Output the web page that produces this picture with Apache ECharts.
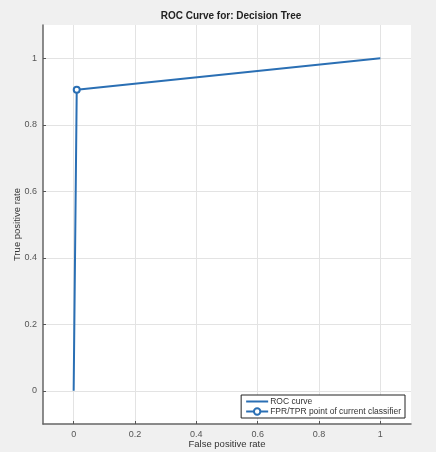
<!DOCTYPE html>
<html><head><meta charset="utf-8">
<script src="https://cdn.jsdelivr.net/npm/echarts@6/dist/echarts.min.js"></script>
<style>html,body{margin:0;padding:0;background:#f0f0f0;}#c{width:436px;height:452px;}</style>
</head><body><div id="c"></div>
<script>
const rocFPR = [0, 0.01, 1];
const rocTPR = [0, 0.905, 1];
const pointFPR = [0.01];
const pointTPR = [0.905];
const tickValues = [0, 0.2, 0.4, 0.6, 0.8, 1];

const chart = echarts.init(document.getElementById('c'));
const axisCommon = {
  type: 'value', min: -0.1, max: 1.1,
  axisLine: {show: true, onZero: false, lineStyle: {color: '#666', width: 1.5}},
  axisTick: {show: true, inside: true, length: 3, customValues: tickValues, lineStyle: {color: '#555'}},
  axisLabel: {customValues: tickValues, color: '#555', fontSize: 9, fontFamily: 'Liberation Sans', formatter: v => String(+v.toFixed(1))},
  splitLine: {show: true, lineStyle: {color: '#e3e3e3', width: 1}},
  nameLocation: 'middle',
  nameMoveOverlap: false,
  nameTextStyle: {color: '#333', fontSize: 9.5, fontFamily: 'Liberation Sans'}
};
chart.setOption({
  backgroundColor: '#f0f0f0',
  animation: false,
  title: {text: 'ROC Curve for: Decision Tree', left: 226, top: 6, textAlign: 'center',
    textStyle: {fontSize: 10, fontWeight: 'bold', color: '#222', fontFamily: 'Liberation Sans'}},
  grid: {left: 43, right: 25, top: 25, bottom: 28, show: true, backgroundColor: '#fff', borderWidth: 0,
    containLabel: false, outerBoundsMode: 'none'},
  xAxis: Object.assign({}, axisCommon, {name: 'False positive rate', nameGap: 15,
    axisLabel: Object.assign({}, axisCommon.axisLabel, {margin: 6})}),
  yAxis: Object.assign({}, axisCommon, {name: 'True positive rate', nameGap: 21,
    axisLabel: Object.assign({}, axisCommon.axisLabel, {margin: 6})}),
  legend: {
    right: 31, bottom: 34, orient: 'vertical', itemGap: 1, itemWidth: 22, itemHeight: 8,
    backgroundColor: '#fff', borderColor: '#222', borderWidth: 1, padding: [2, 4, 2, 4], borderRadius: 0,
    textStyle: {fontSize: 8.5, color: '#333', fontFamily: 'Liberation Sans', padding: [0,0,0,-3]},
    data: [
      {name: 'ROC curve', icon: 'path://M0,0 L22,0 L22,2 L0,2 Z'},
      {name: 'FPR/TPR point of current classifier'}
    ]
  },
  series: [
    {name: 'ROC curve', type: 'line', data: rocFPR.map((x, i) => [x, rocTPR[i]]),
     symbol: 'none', lineStyle: {color: '#2a6fb4', width: 2}, itemStyle: {color: '#2a6fb4'}},
    {name: 'FPR/TPR point of current classifier', type: 'line', data: pointFPR.map((x, i) => [x, pointTPR[i]]),
     symbol: 'emptyCircle', symbolSize: 6, showSymbol: true,
     lineStyle: {color: '#2a6fb4', width: 2}, itemStyle: {color: '#2a6fb4', borderWidth: 1.5, borderColor: '#2a6fb4'}}
  ]
});
</script></body></html>
